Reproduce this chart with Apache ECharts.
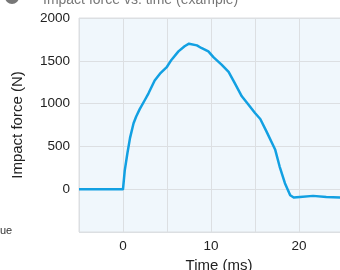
<!DOCTYPE html>
<html>
<head>
<meta charset="utf-8">
<script src="https://cdn.jsdelivr.net/npm/echarts@6/dist/echarts.min.js"></script>
<style>
  html, body { margin: 0; padding: 0; background: #fff; }
  #chart { width: 340px; height: 270px; }
</style>
</head>
<body>
<div id="chart"></div>
<script>
  // time in ms, impact force in N
  var timeMs = [-5, 0, 0.2, 0.5, 0.8, 1.2, 1.5, 1.9, 2.5, 2.9, 3.6, 4.2, 5.0, 5.5, 6.3, 7.0, 7.5, 8.4, 8.9, 9.7,
    10.3, 11.2, 12.0, 12.7, 13.5, 14.2, 15.0, 15.6, 16.3, 17.3, 17.8, 18.4, 19.0, 19.4, 20.1, 21.6, 23.1, 25];
  var forceN = [0, 0, 220, 420, 600, 770, 850, 935, 1045, 1120, 1270, 1350, 1430, 1510, 1610, 1670, 1700, 1680, 1650, 1610,
    1540, 1455, 1370, 1240, 1085, 995, 890, 820, 675, 460, 265, 70, -70, -97, -90, -78, -90, -97];
  var xTickLabels = [0, 10, 20];
  var yTickLabels = [0, 500, 1000, 1500, 2000];

  var dom = echarts.init(document.getElementById('chart'));
  var font = 'Liberation Sans, Arial, sans-serif';

  var option = {
    animation: false,
    title: {
      text: 'Impact force vs. time (example)',
      left: 38,
      top: -12,
      textStyle: { color: '#777', fontSize: 14, fontWeight: 'normal', fontFamily: font }
    },
    graphic: [
      { type: 'circle', shape: { cx: 12, cy: -3, r: 7 }, style: { fill: '#777' } },
      { type: 'text', left: 0, top: 225, style: { text: 'ue', fill: '#333', font: '11px ' + font } }
    ],
    grid: {
      left: 79,
      top: 18,
      width: 264,
      height: 214,
      outerBoundsMode: 'none',
      containLabel: false,
      show: true,
      backgroundColor: '#f0f7fc',
      borderColor: '#dcdfe2',
      borderWidth: 1
    },
    xAxis: {
      type: 'value',
      min: -5,
      max: 25,
      interval: 5,
      name: 'Time (ms)',
      nameLocation: 'middle',
      nameGap: 25,
      nameTextStyle: { color: '#222', fontSize: 15, fontFamily: font, padding: [0, 0, 0, 16] },
      axisLine: { show: false },
      axisTick: { show: false },
      axisLabel: {
        color: '#222',
        fontSize: 13.5,
        fontFamily: font,
        margin: 7,
        formatter: function (v) { return xTickLabels.indexOf(v) >= 0 ? String(v) : ''; }
      },
      splitLine: { show: true, lineStyle: { color: '#dcdfe2', width: 1 } }
    },
    yAxis: {
      type: 'value',
      min: -500,
      max: 2000,
      interval: 500,
      name: 'Impact force (N)',
      nameLocation: 'middle',
      nameGap: 54,
      nameTextStyle: { color: '#222', fontSize: 15, fontFamily: font },
      axisLine: { show: false },
      axisTick: { show: false },
      axisLabel: {
        color: '#222',
        fontSize: 13.5,
        fontFamily: font,
        margin: 9,
        formatter: function (v) { return yTickLabels.indexOf(v) >= 0 ? String(v) : ''; }
      },
      splitLine: { show: true, lineStyle: { color: '#dcdfe2', width: 1 } }
    },
    series: [{
      type: 'line',
      data: timeMs.map(function (t, i) { return [t, forceN[i]]; }),
      showSymbol: false,
      smooth: false,
      lineStyle: { color: '#12a0e2', width: 2.5, join: 'round' }
    }]
  };
  dom.setOption(option);
</script>
</body>
</html>
